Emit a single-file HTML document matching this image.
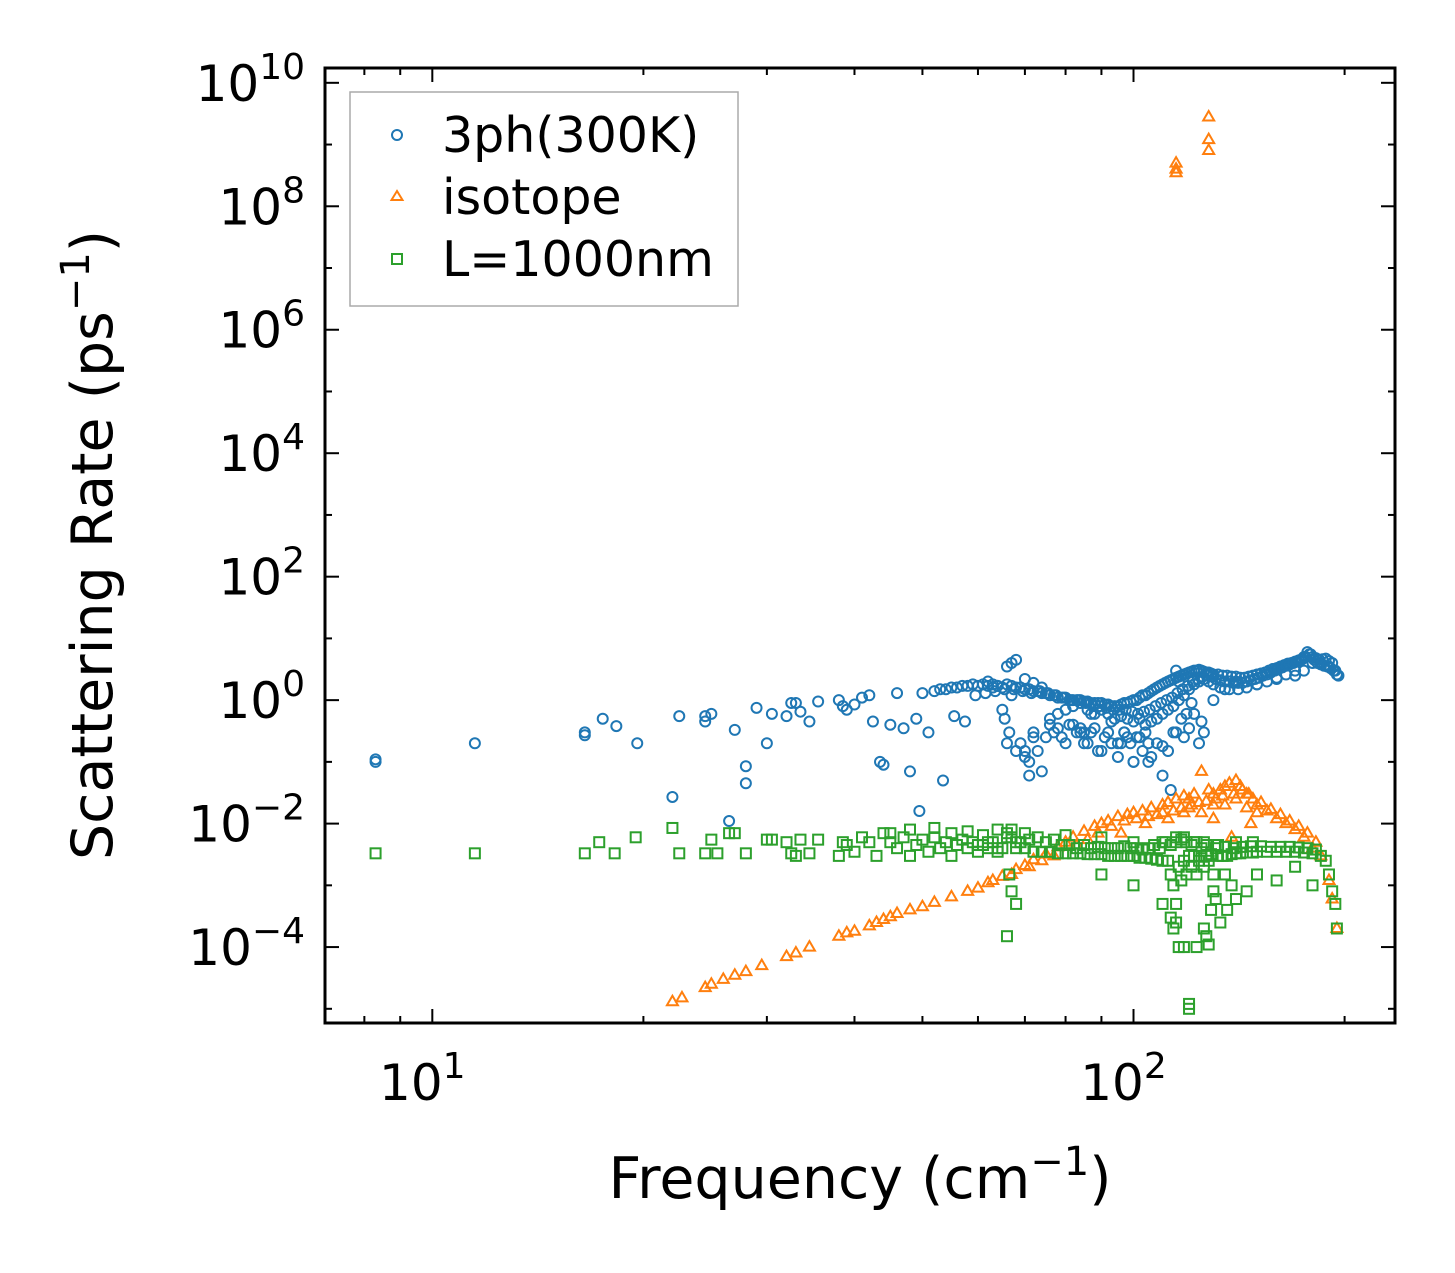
<!DOCTYPE html>
<html><head><meta charset="utf-8"><style>
body{margin:0;background:#fff}
svg{display:block;font-family:"DejaVu Sans","Liberation Sans",sans-serif}
</style></head><body>
<svg id="chart" width="1455" height="1273" viewBox="0 0 1455 1273" xmlns="http://www.w3.org/2000/svg">
<rect width="1455" height="1273" fill="#fff"/>
<g id="marks"></g>
<g id="axes"></g>
<text x="860" y="1198" font-size="57" text-anchor="middle">Frequency (cm<tspan dy="-23" font-size="40">−1</tspan><tspan dy="23">)</tspan></text>
<text transform="translate(112,545) rotate(-90)" font-size="57" text-anchor="middle">Scattering Rate (ps<tspan dy="-23" font-size="40">−1</tspan><tspan dy="23">)</tspan></text>
<g>
<rect x="350" y="92" width="388" height="214" fill="#fff" stroke="#aaa" stroke-width="1.5"/>
<circle cx="397" cy="135" r="5" fill="none" stroke="#1f77b4" stroke-width="2"/>
<text x="442" y="152" font-size="49">3ph(300K)</text>
<path d="M397,191 L402.5,200 L391.5,200 Z" fill="none" stroke="#ff7f0e" stroke-width="2"/>
<text x="442" y="214" font-size="49">isotope</text>
<rect x="392" y="254" width="10" height="10" fill="none" stroke="#2ca02c" stroke-width="2"/>
<text x="442" y="276" font-size="49">L=1000nm</text>
</g>
</svg>
<script>
const blueX=[8.3,8.3,11.5,16.5,16.5,17.5,18.3,19.6,22,22.5,24.5,24.5,25,26.5,27,28,28,29,30,30.5,32,32.5,33,33.5,34.5,35.5,38,38.5,39,40,41,42,42.5,43.5,44,45,46,47,48,49,49.5,50,51,52,53,54,55,56,57,58,59,60,61,62,63,64,65,65.5,66,66.5,67,68,69,70,71,72,73,74,75,76,77,78,79,80,81,82,83,84,85,86,87,88,89,90,91,92,93,94,95,96,97,98,99,100,101,102,103,104,105,106,107,108,109,110,111,112,113,114,115,116,117,118,119,120,121,122,123,124,125,126,127,128,129,130,132,134,136,138,140,142,144,146,148,150,152,154,156,158,160,162,164,166,168,170,172,174,176,178,180,182,184,186,188,190,192,194,196,
62,63,64,66,68,70,72,75,78,80,82,85,88,90,92,95,98,100,104,108,112,115,118,120,122,125,65,67,69,74,77,84,87,93,97,102,106,110,114,117,119,121,124,126,130,135,140,150,160,170,175,180,185,190,115,117,116,113,110,105,100,96,86,84,76,73,72,71,
53.5,55.5,57.5,59.5,61.5,63.5,65.5,67.5,69.5,71.5,73.5,75.5,77.5,79.5,81.5,83.5,85.5,87.5,89.5,91.5,93.5,95.5,97.5,99.5,101.5,103.5,105.5,107.5,109.5,111.5,113.5,115.5,117.5,119.5,121.5,123.5,125.5,127.5,129.5,131,133,135,137,139,141,143,145,147,149,151,153,155,157,159,161,163,165,167,169,171,173,175,177,179,181,183,185,187,189,191,193,195,
70,72,74,76,78,80,82,84,86,88,90,92,94,96,98,100,102,104,106,108,110,112,114,116,118,120,122,124,126,128,130,133,137,141,145,150,155,160,165,170,66,67,68,69,70,71,79,81,83,85,87,89,91,93,95,97,99,101,103,105];
const blueY=[0.11,0.1,0.2,0.3,0.27,0.5,0.38,0.2,0.027,0.55,0.55,0.45,0.6,0.011,0.33,0.085,0.045,0.75,0.2,0.6,0.55,0.9,0.9,0.65,0.45,0.95,1.0,0.8,0.7,0.85,1.1,1.2,0.45,0.1,0.09,0.4,1.3,0.35,0.07,0.5,0.016,1.3,0.3,1.4,1.5,1.5,1.6,1.6,1.7,1.7,1.8,1.7,1.8,1.7,1.6,1.7,1.6,0.5,1.8,0.3,1.7,1.6,1.6,1.5,1.5,1.4,1.4,1.3,1.3,1.2,1.2,1.1,1.1,1.1,1.0,1.0,1.0,1.0,0.95,0.95,0.9,0.9,0.9,0.9,0.85,0.85,0.8,0.8,0.8,0.85,0.9,0.9,0.95,1.0,1.0,1.1,1.2,1.2,1.3,1.4,1.5,1.6,1.7,1.8,1.9,2.0,2.1,2.2,2.3,2.4,2.5,2.6,2.7,2.8,2.9,3.0,3.0,3.1,3.0,2.9,2.8,2.8,2.7,2.6,2.6,2.5,2.5,2.4,2.4,2.3,2.3,2.4,2.5,2.6,2.7,2.8,3.0,3.2,3.3,3.5,3.7,3.9,4.0,4.2,4.4,4.6,5.0,5.5,5.0,4.8,4.5,4.6,4.7,4.3,4.0,3.0,2.5,2.0,1.8,1.7,
0.2,0.15,0.12,0.3,0.25,0.35,0.2,0.4,0.3,0.35,0.15,0.3,0.2,0.25,0.1,0.3,0.2,0.15,0.3,0.25,0.35,0.6,0.45,0.7,1.2,1.6,0.07,0.3,0.35,0.6,0.45,0.3,0.25,0.12,0.18,0.3,0.5,0.6,0.9,0.2,0.3,1.0,1.5,2.0,1.8,2.2,2.5,3.0,4.0,4.0,3.5,3.0,2.5,2.0,0.035,0.06,0.1,0.1,0.2,0.2,0.3,0.4,0.15,0.25,0.06,0.05,0.55,0.45,
1.2,1.3,1.4,1.5,1.5,1.4,1.3,1.4,1.3,1.2,1.1,1.0,1.0,0.9,0.8,0.8,0.75,0.7,0.7,0.7,0.65,0.6,0.65,0.7,0.8,0.9,1.0,1.1,1.3,1.5,1.7,2.0,2.2,2.4,2.5,2.4,2.2,2.1,2.0,2.0,1.9,1.9,1.9,2.0,2.1,2.2,2.3,2.5,2.6,2.8,3.0,3.2,3.4,3.6,3.8,4.0,4.2,4.5,5.0,6.0,5.5,4.5,4.0,3.8,3.6,3.5,3.3,3.0,2.6,2.2,1.9,1.6,
0.5,0.6,0.7,0.8,0.9,0.7,0.6,0.7,0.6,0.5,0.55,0.5,0.45,0.5,0.4,0.45,0.5,0.6,0.7,0.8,1.0,1.2,1.5,1.8,2.0,2.2,2.0,1.8,1.6,1.5,1.5,1.6,1.8,2.0,2.3,2.6,3.0,3.5,4.0,4.5,0.2,0.15,0.1,0.25,0.4,0.3,0.2,0.3,0.15,0.25,0.2,0.12,0.3,0.2,0.25,0.15,0.2,0.3,0.4,0.5];
const orangeX=[22,22.7,24.5,25,26,27,28,29.5,32,33,34.5,38,39,40,42,43,44,45,46,48,50,52,55,58,60,62,65,68,70,72,75,78,80,82,85,88,90,92,95,98,100,103,106,110,112,115,118,120,122,125,128,130,133,135,137,140,142,145,148,150,155,160,165,170,175,180,185,190,192,195,96,104,112,118,130,138,147,115,115,115,128,128,128,
63,67,71,74,77,83,86,89,93,97,101,105,108,114,117,121,124,127,131,134,139,143,146,152,157,162,167,172,177,182,110,120,130,140,150,125,135,145];
const orangeY=[1.3e-5,1.5e-5,2.2e-5,2.5e-5,3e-5,3.5e-5,4e-5,5e-5,7e-5,8e-5,1e-4,1.5e-4,1.7e-4,1.8e-4,2.2e-4,2.5e-4,2.8e-4,3.1e-4,3.5e-4,4e-4,4.5e-4,5.3e-4,6.5e-4,8e-4,9e-4,1.1e-3,1.4e-3,1.8e-3,2.1e-3,2.6e-3,3.2e-3,4.2e-3,5e-3,6e-3,7.5e-3,9e-3,1e-2,1.1e-2,1.3e-2,1.4e-2,1.5e-2,1.6e-2,1.8e-2,2e-2,2.2e-2,2.5e-2,2.8e-2,2.5e-2,3e-2,7e-2,3.5e-2,3e-2,3.5e-2,4e-2,4.5e-2,5e-2,4e-2,3e-2,2.5e-2,2e-2,1.6e-2,1.2e-2,1e-2,8e-3,6e-3,4e-3,3e-3,1.2e-3,6e-4,2e-4,7e-3,1e-2,1.2e-2,1.5e-2,1.2e-2,6e-3,1e-2,4e8,5e8,3.5e8,2.8e9,1.2e9,8e8,
1.2e-3,1.5e-3,2e-3,2.5e-3,3e-3,4.5e-3,5.5e-3,7e-3,9e-3,1.1e-2,1.2e-2,1.3e-2,1.4e-2,1.6e-2,1.8e-2,2e-2,2.2e-2,2.3e-2,2.5e-2,2.8e-2,3e-2,3.5e-2,3e-2,2.2e-2,1.7e-2,1.4e-2,1.1e-2,9e-3,7e-3,5e-3,1.5e-2,1.8e-2,2e-2,2.5e-2,1.5e-2,1.5e-2,2e-2,1.8e-2];
const greenX=[8.3,11.5,16.5,17.3,18.2,19.5,22,22.5,24.5,25,25.5,26.5,27,28,30,30.5,32,32.5,33,33.5,34.5,35.5,38,38.5,39,40,41,42,43,44,45,46,47,48,49,50,51,52,53,54,55,56,57,58,59,60,61,62,63,64,65,66,66.5,67,68,69,70,72,74,76,78,80,82,84,86,88,90,92,94,96,98,100,102,104,106,108,110,112,113,114,115,116,117,118,119,120,121,122,123,124,125,126,127,128,129,130,132,134,136,138,140,142,145,148,150,155,160,165,170,175,180,185,188,190,192,194,195,
113,114,115,116,118,120,120,123,126,127,128,129,130,131,133,136,138,140,135,145,66,67,68,90,100,110,150,160,170,180,
60,62,64,66,68,71,73,75,77,79,81,83,85,87,89,91,93,95,97,99,101,103,105,107,109,111,113,115,117,119,121,123,125,127,131,135,139,143,147,152,157,162,167,172,177,182,
45,48,52,55,58,61,64,67,70,80,90,100,110,115,118,122,126,132,140,148];
const greenY=[3.3e-3,3.3e-3,3.3e-3,5e-3,3.3e-3,6e-3,8.5e-3,3.3e-3,3.3e-3,5.5e-3,3.3e-3,7e-3,7e-3,3.3e-3,5.5e-3,5.5e-3,5e-3,3.3e-3,3e-3,5.5e-3,3.3e-3,5.5e-3,3e-3,5e-3,4.5e-3,3.5e-3,6e-3,5e-3,3e-3,7e-3,5e-3,4e-3,6e-3,3e-3,4.5e-3,5.5e-3,3.5e-3,6e-3,4e-3,5e-3,3e-3,4.5e-3,5.5e-3,4e-3,5e-3,3.5e-3,4.5e-3,4e-3,5e-3,3.5e-3,4e-3,7e-3,1.5e-3,6e-3,4e-3,5e-3,4e-3,3.5e-3,3.5e-3,3.5e-3,3.3e-3,3.3e-3,3.3e-3,3.3e-3,3.2e-3,3.2e-3,3.2e-3,3e-3,3e-3,3e-3,3e-3,3e-3,2.8e-3,2.8e-3,2.7e-3,2.6e-3,2.5e-3,2.5e-3,1.5e-3,1e-3,5e-4,2e-3,1.2e-3,2.5e-3,1.5e-3,3e-3,2e-3,3e-3,1.5e-3,2.5e-3,3e-3,2e-3,3e-3,2.5e-3,3.2e-3,1.5e-3,3e-3,3e-3,3e-3,3.2e-3,3.3e-3,3.3e-3,3.4e-3,3.4e-3,3.5e-3,3.5e-3,3.5e-3,3.5e-3,3.5e-3,3.4e-3,3.3e-3,3e-3,2.5e-3,1.5e-3,8e-4,5e-4,2e-4,
3e-4,2e-4,2.5e-4,1e-4,1e-4,1.2e-5,1e-5,1e-4,2e-4,1.5e-4,1.1e-4,4e-4,8e-4,6e-4,2.5e-4,4e-4,1e-3,6e-4,1.5e-3,8e-4,1.5e-4,8e-4,5e-4,1.5e-3,1e-3,5e-4,1.5e-3,1.2e-3,2e-3,1e-3,
4.5e-3,5e-3,4e-3,6e-3,5e-3,5.5e-3,6e-3,5e-3,5.5e-3,4.5e-3,4.5e-3,4e-3,4.5e-3,4e-3,4.2e-3,4e-3,4e-3,4e-3,4.3e-3,4e-3,4e-3,3.8e-3,4e-3,4.5e-3,4e-3,5e-3,4.5e-3,5e-3,5.5e-3,5e-3,4.5e-3,5e-3,4e-3,4.5e-3,4e-3,4.2e-3,4e-3,4.2e-3,4.3e-3,4.3e-3,4.2e-3,4.2e-3,4.2e-3,4.1e-3,4e-3,3.8e-3,
7e-3,8e-3,8.5e-3,7e-3,7.5e-3,6.5e-3,8e-3,8e-3,7e-3,6.5e-3,6e-3,5e-3,5e-3,6e-3,6e-3,5e-3,5e-3,4.5e-3,5e-3,5e-3];
const xTickLabels=["1","2"];
const yTickLabels=["−4","−2","0","2","4","6","8","10"];
const L=325,R=1395,T=68,B=1023;
const xmin=Math.log10(7.03),xmax=Math.log10(236);
const ymin=-5.23,ymax=10.24;
function sx(v){return L+(Math.log10(v)-xmin)/(xmax-xmin)*(R-L);}
function sy(v){return B-(Math.log10(v)-ymin)/(ymax-ymin)*(B-T);}
const NS="http://www.w3.org/2000/svg";
const marks=document.getElementById('marks');
const axes=document.getElementById('axes');
function mk(tag,attrs,parent){const e=document.createElementNS(NS,tag);for(const k in attrs)e.setAttribute(k,attrs[k]);parent.appendChild(e);return e;}
const cp=mk('clipPath',{id:'clip'},marks);mk('rect',{x:L,y:T,width:R-L,height:B-T},cp);
const g=mk('g',{'clip-path':'url(#clip)'},marks);
blueX.forEach((x,i)=>{const e=mk('circle',{cx:sx(x),cy:sy(blueY[i]),r:5,fill:'none',stroke:'#1f77b4','stroke-width':2},g);

});
orangeX.forEach((x,i)=>{const cx=sx(x),cy=sy(orangeY[i]);const e=mk('path',{d:`M${cx},${cy-6} L${cx+5.5},${cy+3.5} L${cx-5.5},${cy+3.5} Z`,fill:'none',stroke:'#ff7f0e','stroke-width':2},g);

});
greenX.forEach((x,i)=>{const e=mk('rect',{x:sx(x)-5,y:sy(greenY[i])-5,width:10,height:10,fill:'none',stroke:'#2ca02c','stroke-width':2},g);

});
mk('rect',{x:L,y:T,width:R-L,height:B-T,fill:'none',stroke:'#000','stroke-width':3},axes);
for(let d=0;d<=2;d++){for(let m=1;m<=9;m++){const v=m*Math.pow(10,d);if(v<7.03||v>236)continue;const x=sx(v);const len=m===1?14:7;
mk('line',{x1:x,y1:B,x2:x,y2:B-len,stroke:'#000','stroke-width':2},axes);
mk('line',{x1:x,y1:T,x2:x,y2:T+len,stroke:'#000','stroke-width':2},axes);}}
xTickLabels.forEach(p=>{const x=sx(Math.pow(10,+p));const t=mk('text',{x:x-10,y:1100,'font-size':50,'text-anchor':'middle'},axes);t.textContent='10';const s=mk('tspan',{dy:-22,'font-size':36},t);s.textContent=p;

});
for(let p=-5;p<=10;p++){const y=sy(Math.pow(10,p));const len=(p%2===0)?14:7;
mk('line',{x1:L,y1:y,x2:L+len,y2:y,stroke:'#000','stroke-width':2},axes);
mk('line',{x1:R,y1:y,x2:R-len,y2:y,stroke:'#000','stroke-width':2},axes);}
yTickLabels.forEach(p=>{const v=+p.replace('−','-');const y=sy(Math.pow(10,v));const t=mk('text',{x:305,y:y+18,'font-size':50,'text-anchor':'end'},axes);t.textContent='10';const s=mk('tspan',{dy:-22,'font-size':36},t);s.textContent=p;

});
</script>
</body></html>
